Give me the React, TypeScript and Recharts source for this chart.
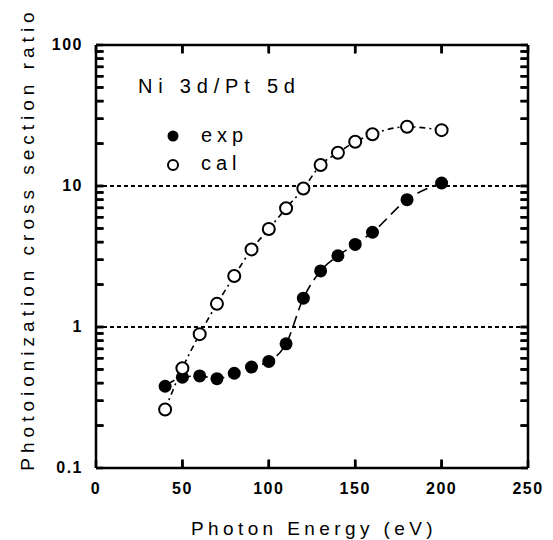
import { LineChart, Line, XAxis, YAxis, ReferenceLine } from 'recharts'

const energy = [40, 50, 60, 70, 80, 90, 100, 110, 120, 130, 140, 150, 160, 180, 200]
const expRatio = [0.38, 0.44, 0.45, 0.43, 0.47, 0.52, 0.57, 0.76, 1.6, 2.5, 3.2, 3.85, 4.7, 8.0, 10.5]
const calRatio = [0.26, 0.51, 0.89, 1.46, 2.3, 3.55, 4.95, 6.95, 9.6, 14.1, 17.2, 20.6, 23.3, 26.3, 24.9]

const xTicks = [0, 50, 100, 150, 200, 250]
const xInnerTicks = [50, 100, 150, 200]
const yMajorTicks = [0.1, 1, 10, 100]
const yMinorTicks = [
  0.2, 0.3, 0.4, 0.5, 0.6, 0.7, 0.8, 0.9,
  2, 3, 4, 5, 6, 7, 8, 9,
  20, 30, 40, 50, 60, 70, 80, 90,
]
const dottedLevels = [1, 10]

const FONT = '"Liberation Sans", Arial, sans-serif'
const INK = '#000'
const tickStroke = { stroke: INK, strokeWidth: 2.5 }
const frame = { stroke: INK, strokeWidth: 2.5 }

// inward tick lengths, in axis units (about 7-8 px)
const X_TICK_UNITS = 4.5
const Y_TICK_FACTOR = 1.15

const data = energy.map((e, i) => ({ energy: e, exp: expRatio[i], cal: calRatio[i] }))
const allYTicks = [...yMajorTicks, ...yMinorTicks].sort((a, b) => a - b)
const innerYTicks = allYTicks.filter((v) => v > 0.1 && v < 100)

function BottomTick({ x, y, payload }: any) {
  return (
    <text x={x} y={y + 26} textAnchor="middle" fontFamily={FONT} fontSize={16} fontWeight="bold" letterSpacing={1.5} fill={INK}>
      {payload.value}
    </text>
  )
}

function LeftTick({ x, y, payload }: any) {
  if (!yMajorTicks.includes(payload.value)) return <g />
  return (
    <text x={x - 13} y={y + 5} textAnchor="end" fontFamily={FONT} fontSize={16} fontWeight="bold" letterSpacing={1.5} fill={INK}>
      {payload.value}
    </text>
  )
}

const NoLabel = () => <g />

const filledDot = (p: any) => (
  <circle key={`e${p.index}`} cx={p.cx} cy={p.cy} r={6.5} fill={INK} stroke="none" />
)
const openDot = (p: any) => (
  <circle key={`c${p.index}`} cx={p.cx} cy={p.cy} r={6} fill="#fff" stroke={INK} strokeWidth={2} strokeDasharray="none" />
)

function XTitle({ viewBox }: any) {
  return (
    <text x={viewBox.x + viewBox.width / 2 + 2} y={viewBox.y + 67} textAnchor="middle" fontFamily={FONT} fontSize={19} letterSpacing={4.4} fill={INK}>
      Photon Energy (eV)
    </text>
  )
}

function YTitle() {
  const cx = 34
  const cy = 239
  return (
    <text x={cx} y={cy} transform={`rotate(-90 ${cx} ${cy})`} textAnchor="middle" fontFamily={FONT} fontSize={19} letterSpacing={5} fill={INK}>
      Photoionization cross section ratio
    </text>
  )
}

export default function App() {
  return (
    <div style={{ position: 'absolute', left: 0, top: 0, width: 553, height: 540, background: '#fff' }}>
      <LineChart width={553} height={540} data={data} margin={{ top: 44, right: 24, left: 0, bottom: 0 }}>
        <XAxis
          xAxisId="b"
          dataKey="energy"
          type="number"
          domain={[0, 250]}
          ticks={xTicks}
          interval={0}
          height={72}
          tickSize={-8}
          tickMargin={8}
          tickLine={tickStroke}
          axisLine={frame}
          tick={<BottomTick />}
          label={<XTitle />}
        />
        <XAxis
          xAxisId="t"
          orientation="top"
          dataKey="energy"
          type="number"
          domain={[0, 250]}
          ticks={xTicks}
          interval={0}
          height={1}
          tickSize={-8}
          tickMargin={0}
          tickLine={tickStroke}
          axisLine={frame}
          tick={<NoLabel />}
        />
        <YAxis
          yAxisId="l"
          scale="log"
          type="number"
          domain={[0.1, 100]}
          allowDataOverflow
          ticks={allYTicks}
          interval={0}
          width={96}
          tickSize={-7}
          tickMargin={7}
          tickLine={tickStroke}
          axisLine={frame}
          tick={<LeftTick />}
          label={<YTitle />}
        />
        <YAxis
          yAxisId="r"
          orientation="right"
          scale="log"
          type="number"
          domain={[0.1, 100]}
          allowDataOverflow
          ticks={allYTicks}
          interval={0}
          width={1}
          tickSize={-7}
          tickMargin={0}
          tickLine={tickStroke}
          axisLine={frame}
          tick={<NoLabel />}
        />
        {dottedLevels.map((v) => (
          <ReferenceLine key={v} xAxisId="b" yAxisId="l" y={v} stroke={INK} strokeWidth={2.2} strokeDasharray="4 3" />
        ))}
        {innerYTicks.map((v) => (
          <ReferenceLine
            key={`yl${v}`}
            xAxisId="b"
            yAxisId="l"
            segment={[{ x: 0, y: v }, { x: X_TICK_UNITS, y: v }]}
            stroke={INK}
            strokeWidth={2.5}
          />
        ))}
        {innerYTicks.map((v) => (
          <ReferenceLine
            key={`yr${v}`}
            xAxisId="b"
            yAxisId="l"
            segment={[{ x: 250 - X_TICK_UNITS, y: v }, { x: 250, y: v }]}
            stroke={INK}
            strokeWidth={2.5}
          />
        ))}
        {xInnerTicks.map((v) => (
          <ReferenceLine
            key={`xb${v}`}
            xAxisId="b"
            yAxisId="l"
            segment={[{ x: v, y: 0.1 }, { x: v, y: 0.1 * Y_TICK_FACTOR }]}
            stroke={INK}
            strokeWidth={2.5}
          />
        ))}
        {xInnerTicks.map((v) => (
          <ReferenceLine
            key={`xt${v}`}
            xAxisId="b"
            yAxisId="l"
            segment={[{ x: v, y: 100 / Y_TICK_FACTOR }, { x: v, y: 100 }]}
            stroke={INK}
            strokeWidth={2.5}
          />
        ))}
        <Line
          xAxisId="b"
          yAxisId="l"
          type="monotone"
          dataKey="exp"
          stroke={INK}
          strokeWidth={1.6}
          strokeDasharray="11 6"
          dot={filledDot}
          activeDot={false}
          isAnimationActive={false}
        />
        <Line
          xAxisId="b"
          yAxisId="l"
          type="monotone"
          dataKey="cal"
          stroke={INK}
          strokeWidth={1.6}
          strokeDasharray="6 4 2 4"
          dot={openDot}
          activeDot={false}
          isAnimationActive={false}
        />
        <g className="legend">
          <text x={138} y={93} fontFamily={FONT} fontSize={20} letterSpacing={5.8} fill={INK}>
            Ni 3d/Pt 5d
          </text>
          <circle cx={173} cy={136} r={5.5} fill={INK} />
          <text x={201} y={142} fontFamily={FONT} fontSize={20} letterSpacing={5} fill={INK}>
            exp
          </text>
          <circle cx={173} cy={165} r={5} fill="#fff" stroke={INK} strokeWidth={2} />
          <text x={201} y={170} fontFamily={FONT} fontSize={20} letterSpacing={5} fill={INK}>
            cal
          </text>
        </g>
      </LineChart>
    </div>
  )
}
